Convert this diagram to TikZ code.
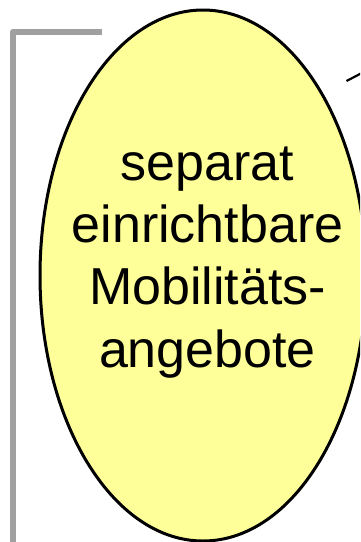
\documentclass[tikz,border=0pt]{standalone}
\usepackage{fontspec}
\setmainfont{Liberation Sans}
\usetikzlibrary{shapes.geometric}
\definecolor{offerfill}{RGB}{255,255,153}
\definecolor{bracketgray}{RGB}{160,160,160}
\tikzset{
  offer/.style={ellipse, draw=black, line width=3pt, fill=offerfill,
    minimum width=326pt, minimum height=531pt, inner sep=0pt},
  offertext/.style={align=center, font=\fontsize{52}{62.3}\selectfont, inner sep=0pt},
  bracket/.style={draw=bracketgray, line width=6pt, line join=round},
  link/.style={draw=black, line width=2.2pt}
}
\begin{document}
\begin{tikzpicture}[x=1pt,y=-1pt]
  \useasboundingbox (0,0) rectangle (360,542);
  \clip (0,0) rectangle (360,542);
  \fill[white] (0,0) rectangle (360,542);
  % grey bracket along the left margin
  \coordinate (bt) at (101.5,31.5);
  \coordinate (bc) at (13,31.5);
  \coordinate (bb) at (13,560);
  \draw[bracket] (bt) -- (bc) -- (bb);
  % the offer ellipse and its caption
  \node[offer] (offers) at (203,275.5) {};
  \node[offertext, anchor=base] (caption) at (207.5,367)
    {separat\\einrichtbare\\Mobilitäts-\\angebote};
  % connector leaving towards the upper right
  \coordinate (lA) at (346.5,81);
  \coordinate (lB) at (380,63.5);
  \draw[link] (lA) -- (lB);
\end{tikzpicture}
\end{document}
